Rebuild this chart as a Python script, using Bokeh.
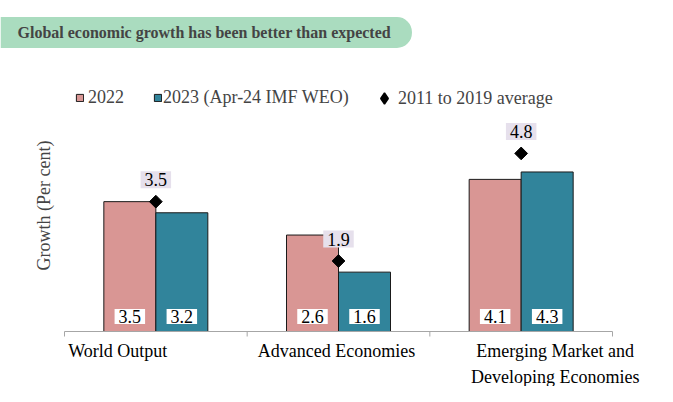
from math import pi
import numpy as np
from bokeh.plotting import figure
from bokeh.models import Range1d, Label, Legend, LegendItem
from bokeh.core.properties import value
from bokeh.embed import file_html
from bokeh.resources import INLINE

# ---------------- data ----------------
categories = ["World Output", "Advanced Economies", "Emerging Market and\nDeveloping Economies"]
growth_2022 = [3.5, 2.6, 4.1]
growth_2023 = [3.2, 1.6, 4.3]
avg_2011_2019 = [3.5, 1.9, 4.8]
series_names = ["2022", "2023 (Apr-24 IMF WEO)", "2011 to 2019 average"]
title_text = "Global economic growth has been better than expected"
y_label = "Growth (Per cent)"

# ---------------- layout / style ----------------
W, H = 657, 386
AX_L, AX_R = 64, 612          # category axis span (screen px)
BASE_FROM_BOTTOM = 55          # baseline height from bottom (px)
PX_PER_UNIT = 37.1
FONT = "Liberation Serif"
C22, C23 = "#d99694", "#31849b"
AVG_BG = "#e6e0ec"
BANNER = "#aadcbf"
cat_dx = [-38, -2, 34]         # label offsets (px)

n = len(categories)
cat_px = (AX_R - AX_L) / n
x_range = Range1d(-0.5 - AX_L / cat_px, n - 0.5 + (W - AX_R) / cat_px)
y_range = Range1d(-BASE_FROM_BOTTOM / PX_PER_UNIT, (H - BASE_FROM_BOTTOM) / PX_PER_UNIT)

p = figure(width=W, height=H, x_range=x_range, y_range=y_range,
           x_axis_location=None, y_axis_location=None,
           toolbar_location=None, output_backend="svg", min_border=0)
p.grid.visible = False
p.outline_line_color = None
p.background_fill_color = "white"
p.border_fill_color = "white"

idx = np.arange(n)
bw = 52 / cat_px
x22 = idx - bw / 2
x23 = idx + bw / 2

r22 = p.vbar(x=x22, top=growth_2022, bottom=0, width=bw, fill_color=C22,
             line_color="#1a1a1a", line_width=1)
r23 = p.vbar(x=x23, top=growth_2023, bottom=0, width=bw, fill_color=C23,
             line_color="#1a1a1a", line_width=1)

# baseline + ticks
p.segment(x0=[-0.5], y0=[0], x1=[n - 0.5], y1=[0], line_color="#a6a6a6", line_width=1)
tick_x = [t - 0.5 for t in range(n + 1)]
p.segment(x0=tick_x, y0=[0] * len(tick_x), x1=tick_x, y1=[-5 / PX_PER_UNIT] * len(tick_x),
          line_color="#a6a6a6", line_width=1)

# value labels at the bar bases
for xs, vals in ((x22, growth_2022), (x23, growth_2023)):
    p.text(x=xs, y=[0] * n, text=[f"{v:.1f}" for v in vals], y_offset=-15,
           text_align="center", text_baseline="middle",
           text_font=value(FONT), text_font_size="18px", text_color="black",
           background_fill_color="white", padding=dict(left=4, right=4, top=1, bottom=1))

# averages
rav = p.scatter(x=idx, y=avg_2011_2019, marker="square", angle=pi / 4, size=9,
                fill_color="black", line_color="black")
rav_legend = p.scatter(x=idx, y=avg_2011_2019, marker="diamond", size=9,
                       fill_color="black", line_color="black", line_width=1.5,
                       visible=False)
p.text(x=idx, y=avg_2011_2019, text=[f"{v:.1f}" for v in avg_2011_2019], y_offset=-22,
       text_align="center", text_baseline="middle",
       text_font=value(FONT), text_font_size="18px", text_color="black",
       background_fill_color=AVG_BG, padding=dict(left=4, right=4, top=2, bottom=2))

# category labels
p.text(x=idx, y=[0] * n, text=categories, x_offset=cat_dx, y_offset=9,
       text_align="center", text_baseline="top", text_line_height=1.33,
       text_font=value(FONT), text_font_size="18px", text_color="black")

# legends
def mk_legend(label, rend, x, y, g, standoff):
    lg = Legend(items=[LegendItem(label=label, renderers=[rend])], location=(x, y),
                orientation="horizontal", glyph_width=g, glyph_height=g,
                label_standoff=standoff, padding=0, margin=0, spacing=0,
                border_line_color=None, background_fill_alpha=0,
                inactive_fill_alpha=0,
                label_text_font=FONT, label_text_font_size="18px", label_height=20)
    p.add_layout(lg)

mk_legend(series_names[0], r22, 75, 278, 9, 4)
mk_legend(series_names[1], r23, 153, 278, 9, 1)
mk_legend(series_names[2], rav_legend, 370, 274, 28, 0)

# title banner
p.add_layout(Label(x=0, y=354, x_units="screen", y_units="screen", text=title_text,
                   text_font=FONT, text_font_style="bold", text_font_size="16px",
                   text_align="left", text_baseline="middle",
                   background_fill_color=BANNER,
                   padding=dict(left=17, right=21, top=7, bottom=7),
                   border_radius=dict(top_left=0, top_right=15, bottom_right=15, bottom_left=0)))

# y axis label
p.add_layout(Label(x=43, y=181, x_units="screen", y_units="screen", text=y_label,
                   angle=pi / 2, text_font=FONT, text_font_size="18px",
                   text_align="center", text_baseline="middle"))

open("out.html", "w").write(file_html(p, INLINE))
